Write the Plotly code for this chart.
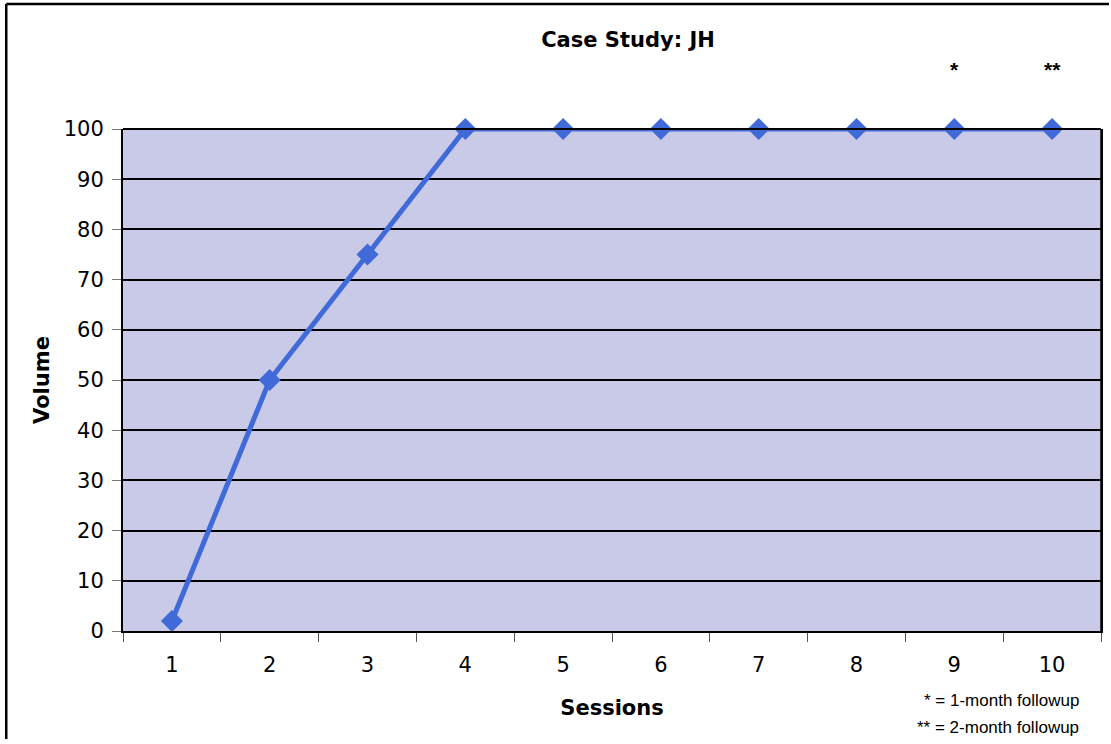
import plotly.graph_objects as go

sessions = [1, 2, 3, 4, 5, 6, 7, 8, 9, 10]
volume = [2, 50, 75, 100, 100, 100, 100, 100, 100, 100]
y_ticks = [0, 10, 20, 30, 40, 50, 60, 70, 80, 90, 100]
followup_marks = {9: "*", 10: "**"}

fig = go.Figure()
fig.add_trace(go.Scatter(
    x=sessions, y=volume, mode="lines+markers",
    line=dict(color="#3f6ad8", width=5),
    marker=dict(symbol="diamond", size=17, color="#3f6ad8"),
    cliponaxis=False, showlegend=False,
))

for s, mark in followup_marks.items():
    fig.add_annotation(x=s, y=1, yref="paper", yshift=60, yanchor="middle",
                       text="<b>" + mark + "</b>", showarrow=False,
                       font=dict(family="Liberation Sans", size=21, color="black"))

fig.add_annotation(x=(1083 - 123) / 980, xref="paper", xanchor="right", y=0, yref="paper",
                   yshift=-69, yanchor="middle",
                   text="* = 1-month followup", showarrow=False,
                   font=dict(family="Liberation Sans", size=17, color="black"))
fig.add_annotation(x=(1083 - 123) / 980, xref="paper", xanchor="right", y=0, yref="paper",
                   yshift=-96, yanchor="middle",
                   text="** = 2-month followup", showarrow=False,
                   font=dict(family="Liberation Sans", size=17, color="black"))

fig.update_layout(
    width=1111, height=744,
    margin=dict(l=123, r=8, t=129, b=113),
    paper_bgcolor="white",
    plot_bgcolor="#c9c9e8",
    title=dict(text="<b>Case Study: JH</b>", x=628 / 1111, xanchor="center",
               y=1 - 40 / 744, yanchor="middle",
               font=dict(family="DejaVu Sans", size=21, color="black")),
    font=dict(family="DejaVu Sans", color="black"),
    xaxis=dict(
        range=[0.5, 10.5], tickmode="array", tickvals=sessions,
        ticktext=[str(s) for s in sessions],
        showgrid=False, zeroline=False,
        showline=True, linecolor="black", linewidth=2, mirror=False,
        ticks="", tickfont=dict(size=21), ticklabelstandoff=14,
        title=dict(text="<b>Sessions</b>", font=dict(size=21), standoff=24),
        minor=dict(tickvals=[i + 0.5 for i in range(0, 11)], ticks="outside",
                   ticklen=9, tickcolor="#555", tickwidth=1),
    ),
    yaxis=dict(
        range=[0, 100], tickmode="array", tickvals=y_ticks,
        showgrid=True, gridcolor="black", gridwidth=2, zeroline=False,
        showline=True, linecolor="black", linewidth=2, mirror=True,
        ticks="outside", ticklen=9, tickcolor="#777", tickwidth=1,
        tickfont=dict(size=21), ticklabelstandoff=4,
        title=dict(text="<b>Volume</b>", font=dict(size=21), standoff=8),
    ),
)

fig.add_shape(type="line", xref="paper", yref="paper", x0=0, x1=1, y0=1, y1=1,
              line=dict(color="black", width=2))
fig.add_shape(type="line", xref="paper", yref="paper", x0=1, x1=1, y0=0, y1=1,
              line=dict(color="black", width=1.5))

# outer frame
fig.add_shape(type="line", xref="paper", yref="paper",
              x0=-117 / 980, x1=-117 / 980, y0=-108 / 502, y1=1 + 125 / 502,
              line=dict(color="black", width=2.5))
fig.add_shape(type="line", xref="paper", yref="paper",
              x0=-117 / 980, x1=1 + 8 / 980, y0=1 + 125 / 502, y1=1 + 125 / 502,
              line=dict(color="black", width=2.5))

fig.write_html("out.html")
